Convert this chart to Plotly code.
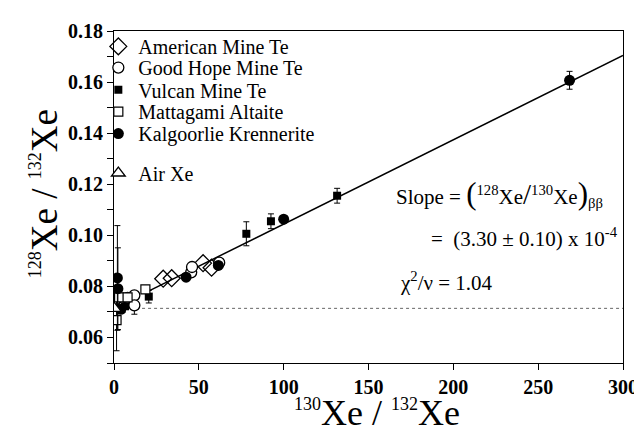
import plotly.graph_objects as go

# ---------------- data ----------------
american_x = [0.5, 29.0, 34.0, 52.5, 57.5]
american_y = [0.0748, 0.0830, 0.0832, 0.0891, 0.0873]

goodhope_x = [0.3, 8.0, 12.0, 12.0, 45.5, 46.0, 62.0]
goodhope_y = [0.0745, 0.0755, 0.0765, 0.0726, 0.0855, 0.0876, 0.0893]
goodhope_err = [0, 0, 0, 0.0035, 0, 0, 0]

vulcan_x = [4.5, 6.5, 20.5, 78.0, 92.5, 131.5]
vulcan_y = [0.0712, 0.0722, 0.0760, 0.1006, 0.1055, 0.1155]
vulcan_err = [0, 0, 0.0025, 0.0047, 0.0029, 0.0029]

mattagami_x = [1.5, 3.0, 8.0, 18.5]
mattagami_y = [0.0668, 0.0757, 0.0757, 0.0788]
mattagami_err = [0.012, 0, 0, 0]

kalgoorlie_x = [2.0, 2.3, 4.0, 42.5, 61.5, 100.0, 268.5]
kalgoorlie_y = [0.0833, 0.0791, 0.0710, 0.0836, 0.0882, 0.1063, 0.1607]
kalgoorlie_err = [0.0205, 0.016, 0, 0, 0, 0, 0.0035]

air_x = [0.15]
air_y = [0.0714]

fit_intercept = 0.0714
fit_slope = 3.30e-4
fit_x = [18, 300]
air_line_x = [13, 300]

x_ticks = [0, 50, 100, 150, 200, 250, 300]
y_ticks = [0.06, 0.08, 0.10, 0.12, 0.14, 0.16, 0.18]
y_ticktext = ["0.06", "0.08", "0.10", "0.12", "0.14", "0.16", "0.18"]

# ---------------- figure ----------------
SERIF = "Liberation Serif, Times New Roman, serif"
W, H = 642, 433
ML, MR, MT, MB = 106, 16, 16, 78
PW, PH = W - ML - MR, H - MT - MB

def px_x(p):
    return (p - ML) / PW

def px_y(p):
    return (H - MB - p) / PH

fig = go.Figure()

fig.add_trace(go.Scatter(
    x=air_line_x, y=[air_y[0]] * len(air_line_x), mode="lines",
    line=dict(color="#666", width=1, dash="dot"), showlegend=False, hoverinfo="skip"))
fig.add_trace(go.Scatter(
    x=fit_x, y=[fit_intercept + fit_slope * v for v in fit_x], mode="lines",
    line=dict(color="black", width=1.5), showlegend=False, hoverinfo="skip"))

eb = dict(type="data", color="black", thickness=1, width=3)

def err(vals):
    return dict(eb, array=vals, visible=True)

fig.add_trace(go.Scatter(
    x=american_x, y=american_y, mode="markers", name="American Mine Te", legend="legend",
    marker=dict(symbol="diamond-open", size=13, color="black", line=dict(width=1.3))))
fig.add_trace(go.Scatter(
    x=goodhope_x, y=goodhope_y, mode="markers", name="Good Hope Mine Te", legend="legend2",
    error_y=err(goodhope_err),
    marker=dict(symbol="circle", size=11, color="white", line=dict(color="black", width=1.3))))
fig.add_trace(go.Scatter(
    x=vulcan_x, y=vulcan_y, mode="markers", name="Vulcan Mine Te", legend="legend3",
    error_y=err(vulcan_err),
    marker=dict(symbol="square", size=8, color="black")))
fig.add_trace(go.Scatter(
    x=mattagami_x, y=mattagami_y, mode="markers", name="Mattagami Altaite", legend="legend4",
    error_y=err(mattagami_err),
    marker=dict(symbol="square", size=9, color="white", line=dict(color="black", width=1.2))))
fig.add_trace(go.Scatter(
    x=kalgoorlie_x, y=kalgoorlie_y, mode="markers", name="Kalgoorlie Krennerite", legend="legend5",
    error_y=err(kalgoorlie_err),
    marker=dict(symbol="circle", size=11, color="black")))
fig.add_trace(go.Scatter(
    x=air_x, y=air_y, mode="markers", name="Air Xe", legend="legend6",
    marker=dict(symbol="triangle-up", size=12, color="white", line=dict(color="black", width=1.3))))

ax_common = dict(showline=True, linecolor="black", linewidth=1.2, mirror=True,
                 showgrid=False, zeroline=False, ticks="outside", ticklen=6,
                 tickcolor="black", tickwidth=1.2,
                 tickfont=dict(family=SERIF, size=20, color="black", weight="bold"))

fig.update_xaxes(range=[0, 300], tickvals=x_ticks, **ax_common)
fig.update_yaxes(range=[0.05, 0.18], tickvals=y_ticks, ticktext=y_ticktext,
                 minor=dict(dtick=0.01, ticks="outside", ticklen=6, tickcolor="black", tickwidth=1.2),
                 **ax_common)

sup = "<sup><span style='font-size:18px'>{}</span></sup>"
annotations = [
    dict(text=sup.format("128") + "Xe / " + sup.format("132") + "Xe", textangle=-90,
         xref="paper", yref="paper", x=px_x(35), y=0.51, xanchor="center", yanchor="middle",
         showarrow=False, font=dict(family=SERIF, size=37, color="black")),
    dict(text=sup.format("130") + "Xe / " + sup.format("132") + "Xe",
         xref="paper", yref="paper", x=0.517, y=px_y(406), xanchor="center", yanchor="middle",
         showarrow=False, font=dict(family=SERIF, size=36, color="black")),
    dict(text="Slope = <span style='font-size:31px'>(</span><sup>128</sup>Xe"
              "<span style='font-size:29px'>/</span><sup>130</sup>Xe"
              "<span style='font-size:31px'>)</span><sub>ββ</sub>",
         xref="paper", yref="paper", x=px_x(608), y=px_y(182),
         xanchor="right", yanchor="middle", showarrow=False,
         font=dict(family=SERIF, size=21, color="black")),
    dict(text="=  (3.30 ± 0.10) x 10<sup>-4</sup>",
         xref="paper", yref="paper", x=px_x(623), y=px_y(227),
         xanchor="right", yanchor="middle", showarrow=False,
         font=dict(family=SERIF, size=21, color="black")),
    dict(text="χ<sup>2</sup>/ν = 1.04",
         xref="paper", yref="paper", x=px_x(396), y=px_y(272),
         xanchor="left", yanchor="middle", showarrow=False,
         font=dict(family=SERIF, size=21, color="black")),
]

legend_rows = [31.7, 53.3, 76.0, 98.3, 120.7, 161.0]
legend_style = dict(x=px_x(90), xanchor="left", yanchor="middle",
                    bgcolor="rgba(0,0,0,0)", borderwidth=0, itemsizing="trace",
                    font=dict(family=SERIF, size=20, color="black"))
legends = {}
for i, row in enumerate(legend_rows):
    key = "legend" if i == 0 else f"legend{i + 1}"
    legends[key] = dict(legend_style, y=px_y(row))

fig.update_layout(
    width=W, height=H,
    margin=dict(l=ML, r=MR, t=MT, b=MB),
    paper_bgcolor="white", plot_bgcolor="white",
    font=dict(family=SERIF, color="black"),
    annotations=annotations,
    **legends,
)

fig.write_html("out.html")
